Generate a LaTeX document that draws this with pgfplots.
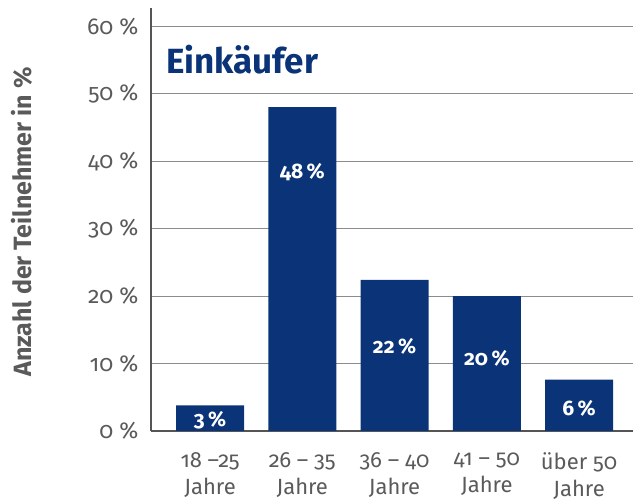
\documentclass[border=0pt]{standalone}
\usepackage{fontspec}
\setmainfont{Fira Sans}[Numbers=OldStyle]
\usepackage{pgfplots}
\pgfplotsset{compat=1.18}
\definecolor{barblue}{HTML}{0A3477}
\definecolor{txtgray}{HTML}{5A5A5A}
\definecolor{gridgray}{HTML}{8C8C8C}
\definecolor{axgray}{HTML}{555555}

\pgfplotstableread{
x  val  laby  lab
0  3.8  1.6   {3\,\%}
1  48   38.4  {48\,\%}
2  22.4 12.6  {22\,\%}
3  20   10.7  {20\,\%}
4  7.6  3.3   {6\,\%}
}\datatable

\begin{document}
\begin{tikzpicture}
\begin{axis}[
    at={(0,0)}, anchor=south west,
    scale only axis,
    width=482pt, height=423pt,
    xmin=-0.64, xmax=4.585,
    ymin=0, ymax=62.7,
    axis x line*=bottom,
    axis y line*=left,
    axis line style={draw=axgray, line width=1.6pt},
    major tick length=0pt,
    ytick={0,10,20,30,40,50,60},
    yticklabels={0 \%,10 \%,20 \%,30 \%,40 \%,50 \%,60 \%},
    xtick={0,1,2,3,4},
    xticklabels={18 –25\\Jahre, 26 – 35\\Jahre, 36 – 40\\Jahre, 41 – 50\\Jahre, über 50\\Jahre},
    xticklabel style={align=center, text=txtgray, font=\fontsize{22}{27}\selectfont, yshift=-18pt},
    yticklabel style={text=txtgray, font=\fontsize{23}{27}\selectfont, xshift=-9pt},
    ymajorgrids,
    grid style={draw=gridgray, line width=0.9pt},
    ylabel={Anzahl der Teilnehmer in \%},
    ylabel style={at={(axis description cs:-0.268,0.494)}, anchor=center, text=txtgray, font=\bfseries\fontsize{25}{29}\selectfont},
    clip=false,
]
\addplot[ybar, bar width=68pt, bar shift=0pt, fill=barblue, draw=none] table[x=x, y=val] {\datatable};
\addplot[draw=none, mark=none, nodes near coords, point meta=explicit symbolic,
    nodes near coords align={center},
    every node near coord/.append style={text=white, font=\bfseries\fontsize{21}{24}\selectfont, inner sep=0pt}]
    table[x=x, y=laby, meta=lab] {\datatable};
\node[anchor=base west, inner sep=0pt, text=barblue, font=\bfseries\fontsize{35}{40}\selectfont]
    at (axis description cs:0.031,0.844) {Einkäufer};
\end{axis}
\pgfresetboundingbox
\path[use as bounding box] (-151pt,-70pt) rectangle (482pt,431pt);
\end{tikzpicture}
\end{document}
